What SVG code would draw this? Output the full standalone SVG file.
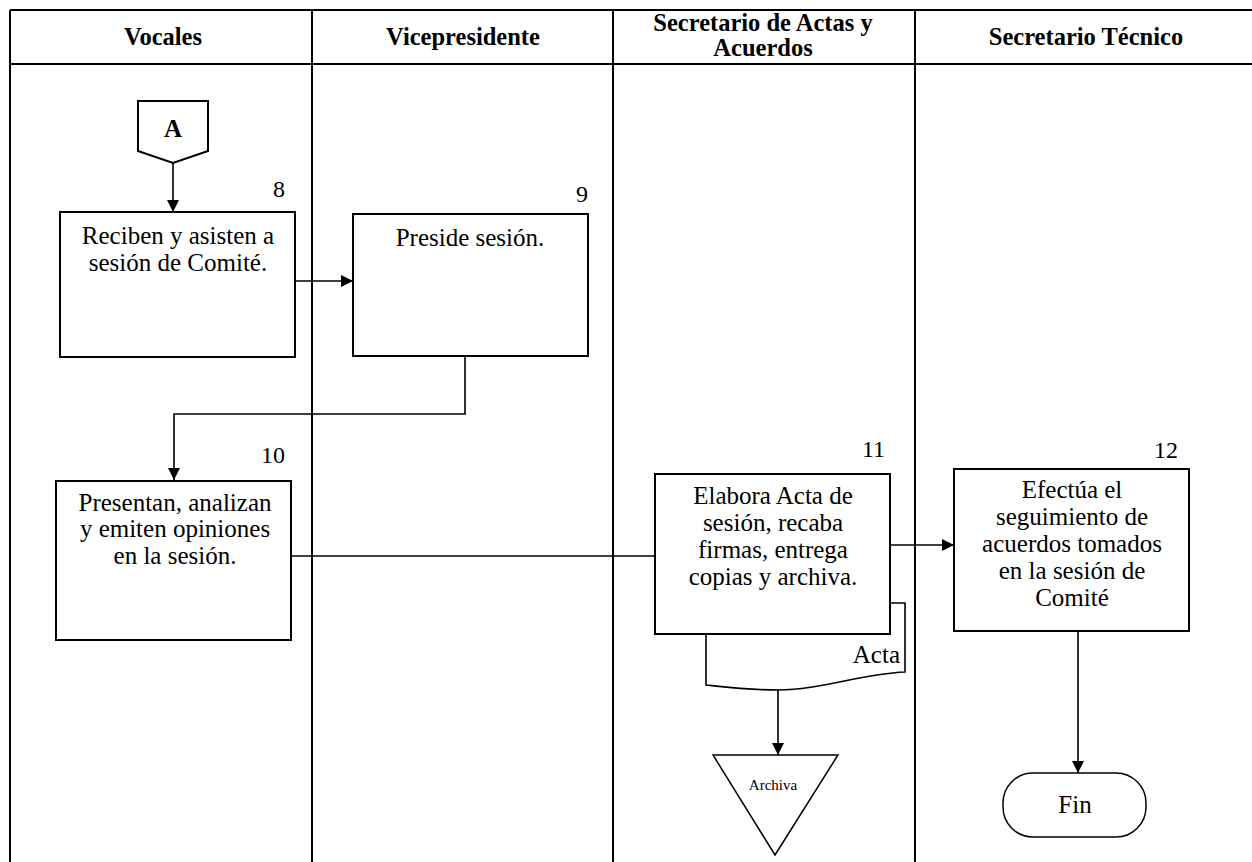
<svg xmlns="http://www.w3.org/2000/svg" width="1252" height="862" viewBox="0 0 1252 862">
<defs>
<marker id="arr" markerUnits="userSpaceOnUse" markerWidth="12" markerHeight="12" viewBox="0 0 12 12" refX="12" refY="6" orient="auto">
<path d="M0,0 L12,6 L0,12 Z" fill="#000"/>
</marker>
<style>
.lane{stroke:#000;stroke-width:2;fill:none}
.box{fill:#fff;stroke:#000;stroke-width:2}
.con{fill:none;stroke:#000;stroke-width:1.6}
.hd{font-family:"Liberation Serif","Times New Roman",serif;font-weight:bold;font-size:24.5px;text-anchor:middle;fill:#000}
.tx{font-family:"Liberation Serif","Times New Roman",serif;font-size:25px;text-anchor:middle;fill:#000}
.num{font-family:"Liberation Serif","Times New Roman",serif;font-size:24px;text-anchor:end;fill:#000}
</style>
</defs>
<rect width="1252" height="862" fill="#fff"/>
<g id="lanes">
<line class="lane" x1="10" y1="10" x2="1252" y2="10"/>
<line class="lane" x1="10" y1="64" x2="1252" y2="64"/>
<line class="lane" x1="10" y1="10" x2="10" y2="862"/>
<line class="lane" x1="312" y1="10" x2="312" y2="862"/>
<line class="lane" x1="613" y1="10" x2="613" y2="862"/>
<line class="lane" x1="915" y1="10" x2="915" y2="862"/>
<text class="hd" x="163" y="45">Vocales</text>
<text class="hd" x="463" y="45">Vicepresidente</text>
<text class="hd" x="763" y="31">Secretario de Actas y</text>
<text class="hd" x="763" y="56">Acuerdos</text>
<text class="hd" x="1086" y="45">Secretario Técnico</text>
</g>
<g id="connectors">
<line class="con" x1="173" y1="163" x2="173" y2="212" marker-end="url(#arr)"/>
<line class="con" x1="295" y1="281" x2="353" y2="281" marker-end="url(#arr)"/>
<polyline class="con" points="465,356 465,414 174,414 174,480" marker-end="url(#arr)"/>
<line class="con" x1="291" y1="556" x2="655" y2="556"/>
<line class="con" x1="890" y1="545" x2="954" y2="545" marker-end="url(#arr)"/>
<line class="con" x1="778" y1="690" x2="778" y2="755" marker-end="url(#arr)"/>
<line class="con" x1="1078" y1="631" x2="1078" y2="773" marker-end="url(#arr)"/>
</g>
<g id="nodeA">
<path class="box" d="M138,101 H208 V151 L173,163 L138,151 Z" stroke-width="1.5"/>
<text class="tx" x="173" y="137" font-weight="bold">A</text>
</g>
<g id="node8">
<rect class="box" x="60" y="212" width="235" height="145"/>
<text class="num" x="285" y="197">8</text>
<text class="tx" x="178" y="244">Reciben y asisten a</text>
<text class="tx" x="178" y="271">sesión de Comité.</text>
</g>
<g id="node9">
<rect class="box" x="353" y="214" width="235" height="142"/>
<text class="num" x="588" y="202">9</text>
<text class="tx" x="470" y="246">Preside sesión.</text>
</g>
<g id="node10">
<rect class="box" x="56" y="481" width="235" height="159"/>
<text class="num" x="285" y="463">10</text>
<text class="tx" x="175" y="511">Presentan, analizan</text>
<text class="tx" x="175" y="537">y emiten opiniones</text>
<text class="tx" x="175" y="564">en la sesión.</text>
</g>
<g id="actaDoc">
<path d="M706,603 H905 V672 C860,674 820,690 778,690 C750,690 725,687 706,685 Z" fill="#fff" stroke="#000" stroke-width="1.6"/>
<text class="tx" x="900" y="663" style="text-anchor:end">Acta</text>
</g>
<g id="node11">
<rect class="box" x="655" y="474" width="235" height="160"/>
<text class="num" x="885" y="457">11</text>
<text class="tx" x="773" y="504">Elabora Acta de</text>
<text class="tx" x="773" y="531">sesión, recaba</text>
<text class="tx" x="773" y="558">firmas, entrega</text>
<text class="tx" x="773" y="585">copias y archiva.</text>
</g>
<g id="archiva">
<path d="M713,755 H838 L775,855 Z" fill="#fff" stroke="#000" stroke-width="1.5"/>
<text x="773" y="790" font-family="Liberation Serif, Times New Roman, serif" font-size="15" text-anchor="middle">Archiva</text>
</g>
<g id="node12">
<rect class="box" x="954" y="469" width="235" height="162"/>
<text class="num" x="1178" y="458">12</text>
<text class="tx" x="1072" y="498">Efectúa el</text>
<text class="tx" x="1072" y="525">seguimiento de</text>
<text class="tx" x="1072" y="552">acuerdos tomados</text>
<text class="tx" x="1072" y="579">en la sesión de</text>
<text class="tx" x="1072" y="606">Comité</text>
</g>
<g id="fin">
<rect x="1003" y="773" width="143" height="64" rx="30" ry="30" fill="#fff" stroke="#000" stroke-width="1.5"/>
<text class="tx" x="1075" y="813">Fin</text>
</g>
</svg>
